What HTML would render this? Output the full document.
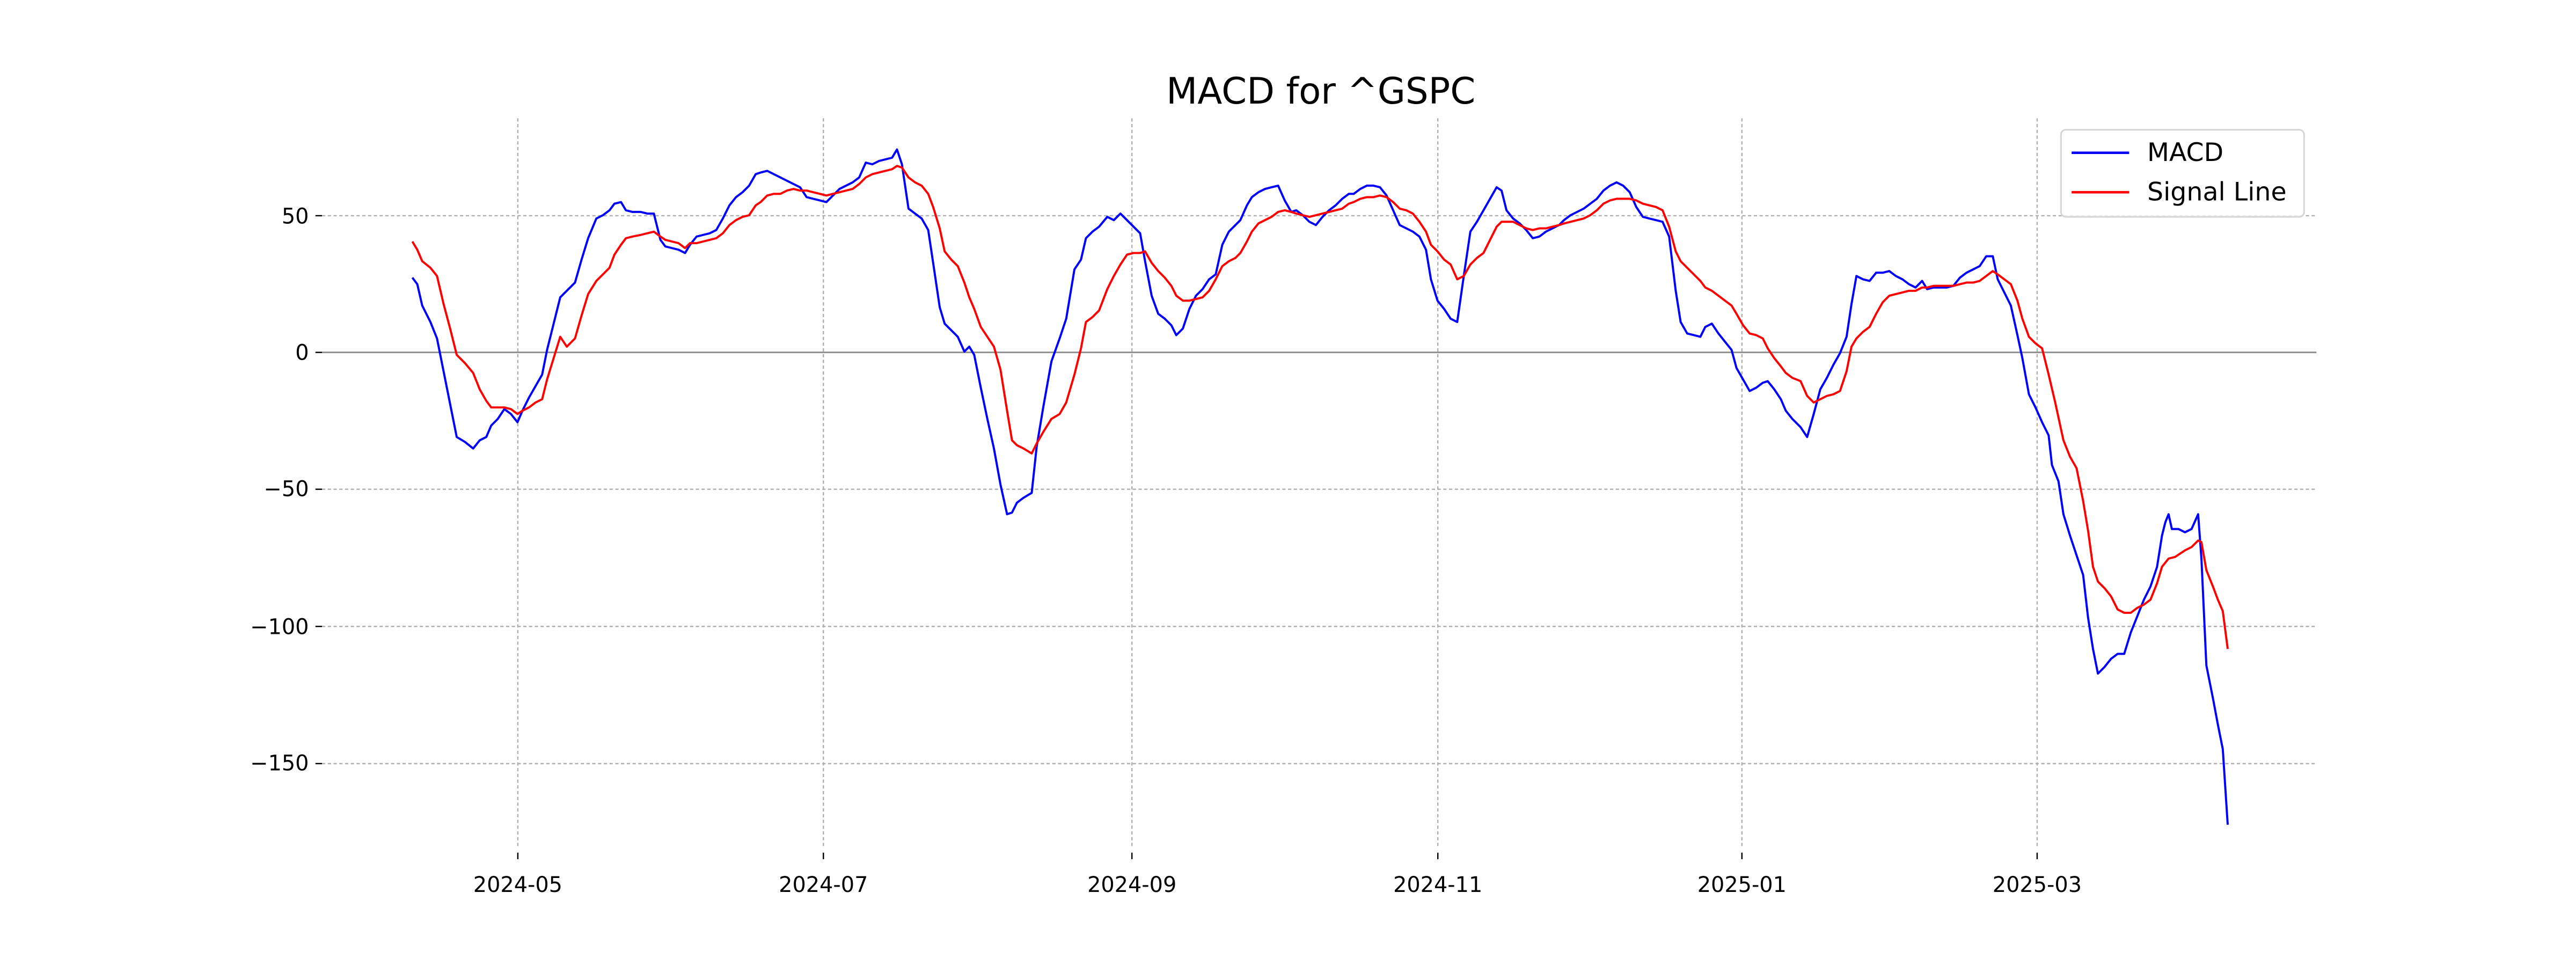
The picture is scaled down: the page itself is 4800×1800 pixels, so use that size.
<!DOCTYPE html>
<html><head><meta charset="utf-8"><style>html,body{margin:0;padding:0;background:#fff}svg{display:block}</style></head>
<body>
<svg width="4800" height="1800" viewBox="0 0 1568 588" xmlns="http://www.w3.org/2000/svg" font-family="'DejaVu Sans','Liberation Sans',sans-serif">
<rect width="1568" height="588" fill="#fff"/>
<g stroke="#b0b0b0" stroke-width="0.8" stroke-dasharray="2,1.5" fill="none">
<line x1="196" y1="131.3" x2="1410" y2="131.3"/>
<line x1="196" y1="297.8" x2="1410" y2="297.8"/>
<line x1="196" y1="381.3" x2="1410" y2="381.3"/>
<line x1="196" y1="464.8" x2="1410" y2="464.8"/>
<line x1="315.2" y1="72" x2="315.2" y2="515"/>
<line x1="501.2" y1="72" x2="501.2" y2="515"/>
<line x1="689" y1="72" x2="689" y2="515"/>
<line x1="875.2" y1="72" x2="875.2" y2="515"/>
<line x1="1060.3" y1="72" x2="1060.3" y2="515"/>
<line x1="1240" y1="72" x2="1240" y2="515"/>
</g>
<line x1="196" y1="214.5" x2="1410" y2="214.5" stroke="#909090" stroke-width="1"/>
<g stroke="#000" stroke-width="0.8">
<line x1="192" y1="131.3" x2="196" y2="131.3"/><line x1="192" y1="214.5" x2="196" y2="214.5"/><line x1="192" y1="297.8" x2="196" y2="297.8"/><line x1="192" y1="381.3" x2="196" y2="381.3"/><line x1="192" y1="464.8" x2="196" y2="464.8"/>
<line x1="315.2" y1="519" x2="315.2" y2="523"/><line x1="501.2" y1="519" x2="501.2" y2="523"/><line x1="689" y1="519" x2="689" y2="523"/><line x1="875.2" y1="519" x2="875.2" y2="523"/><line x1="1060.3" y1="519" x2="1060.3" y2="523"/><line x1="1240" y1="519" x2="1240" y2="523"/>
</g>
<g font-size="13" fill="#000" text-anchor="end">
<text x="188" y="136">50</text><text x="188" y="219">0</text><text x="188" y="302">−50</text><text x="188" y="386">−100</text><text x="188" y="469">−150</text>
</g>
<g font-size="13" fill="#000" text-anchor="middle">
<text x="315.2" y="543">2024-05</text><text x="501.2" y="543">2024-07</text><text x="689" y="543">2024-09</text><text x="875.2" y="543">2024-11</text><text x="1060.3" y="543">2025-01</text><text x="1240" y="543">2025-03</text>
</g>
<text x="804" y="63" font-size="22" text-anchor="middle" fill="#000">MACD for ^GSPC</text>
<polyline fill="none" stroke="#0000ff" stroke-width="1.3" stroke-linejoin="round" points="251,169 254,173 257,186 262,196 266,206 270,226 274,246 278,266 283,269 288,273 292,268 296,266 299,259 303,255 307,249 311,252 315,257 318,250 322,242 326,235 330,228 333,213 337,197 341,181 345,177 350,172 354,158 358,145 363,133 367,131 371,128 374,124 378,123 381,128 385,129 390,129 394,130 398,130 402,146 405,150 409,151 413,152 417,154 420,149 424,144 428,143 432,142 436,140 440,133 444,125 448,120 452,117 456,113 460,106 463,105 467,104 471,106 475,108 479,110 483,112 487,114 491,120 495,121 499,122 503,123 507,119 511,115 515,113 519,111 523,108 527,99 531,100 535,98 539,97 543,96 546,91 549,100 553,127 557,130 561,133 565,140 568,160 572,187 575,197 579,201 583,205 587,214 590,211 593,216 597,236 601,255 605,273 609,295 613,313 616,312 619,306 623,303 628,300 631,272 635,248 640,220 645,206 649,194 654,164 658,158 661,145 665,141 669,138 674,132 678,134 682,130 686,134 690,138 694,142 697,159 701,180 705,191 709,194 713,198 716,204 720,200 724,188 728,180 732,176 736,170 740,167 744,149 748,141 752,137 755,134 759,125 762,120 766,117 770,115 774,114 778,113 782,122 786,129 789,128 793,131 797,135 801,137 805,132 809,128 813,125 817,121 821,118 824,118 828,115 832,113 836,113 840,114 844,119 848,128 852,137 856,139 860,141 864,144 868,152 871,170 875,183 879,188 883,194 887,196 891,168 895,141 899,135 903,128 907,121 911,114 914,116 917,128 921,133 925,136 929,140 933,145 937,144 941,141 945,139 949,137 952,134 956,131 960,129 964,127 968,124 972,121 976,116 980,113 984,111 988,113 992,117 996,126 1000,132 1004,133 1008,134 1012,135 1016,144 1020,177 1023,196 1027,203 1031,204 1035,205 1038,199 1042,197 1046,203 1050,208 1054,213 1057,224 1061,231 1065,238 1069,236 1073,233 1076,232 1080,237 1084,243 1087,250 1091,255 1096,260 1100,266 1104,252 1108,237 1112,230 1116,222 1120,215 1124,205 1127,185 1130,168 1134,170 1138,171 1142,166 1146,166 1150,165 1154,168 1158,170 1162,173 1166,175 1170,171 1173,176 1177,175 1181,175 1185,175 1189,174 1193,169 1197,166 1201,164 1205,162 1209,156 1213,156 1216,170 1220,178 1224,186 1228,204 1231,218 1235,240 1239,248 1243,257 1247,265 1249,283 1253,293 1256,313 1260,326 1264,338 1268,350 1271,376 1274,395 1277,410 1281,406 1285,401 1289,398 1293,398 1297,385 1301,375 1305,365 1309,357 1313,345 1316,326 1318,318 1320,313 1322,322 1326,322 1330,324 1334,322 1338,313 1340,340 1343,405 1347,425 1350,441 1353,456 1356,502"/>
<polyline fill="none" stroke="#ff0000" stroke-width="1.3" stroke-linejoin="round" points="251,147 254,152 257,159 262,163 266,168 270,185 274,200 278,216 283,221 288,227 292,237 296,244 299,248 303,248 307,248 311,249 315,252 318,250 322,248 326,245 330,243 333,231 337,218 341,205 345,211 350,206 354,192 358,179 363,171 367,167 371,163 374,155 378,149 381,145 385,144 390,143 394,142 398,141 402,144 405,146 409,147 413,148 417,151 420,148 424,148 428,147 432,146 436,145 440,142 444,137 448,134 452,132 456,131 460,125 463,123 467,119 471,118 475,118 479,116 483,115 487,116 491,116 495,117 499,118 503,119 507,118 511,117 515,116 519,115 523,112 527,108 531,106 535,105 539,104 543,103 546,101 549,102 553,108 557,111 561,113 565,118 568,126 572,139 575,153 579,158 583,162 587,172 590,181 593,188 597,199 601,205 605,211 609,225 613,250 616,268 619,271 623,273 628,276 631,270 635,263 640,255 645,252 649,245 654,228 658,212 661,196 665,193 669,189 674,176 678,168 682,161 686,155 690,154 694,154 697,153 701,160 705,165 709,169 713,174 716,180 720,183 724,183 728,182 732,181 736,177 740,170 744,162 748,159 752,157 755,154 759,147 762,141 766,136 770,134 774,132 778,129 782,128 786,129 789,130 793,131 797,132 801,131 805,130 809,129 813,128 817,127 821,124 824,123 828,121 832,120 836,120 840,119 844,120 848,123 852,127 856,128 860,130 864,135 868,141 871,149 875,153 879,158 883,161 887,170 891,168 895,161 899,157 903,154 907,146 911,138 914,135 917,135 921,135 925,137 929,139 933,140 937,139 941,139 945,138 949,137 952,136 956,135 960,134 964,133 968,131 972,128 976,124 980,122 984,121 988,121 992,121 996,122 1000,124 1004,125 1008,126 1012,128 1016,138 1020,153 1023,159 1027,163 1031,167 1035,171 1038,175 1042,177 1046,180 1050,183 1054,186 1057,191 1061,198 1065,203 1069,204 1073,206 1076,212 1080,218 1084,223 1087,227 1091,230 1096,232 1100,241 1104,245 1108,243 1112,241 1116,240 1120,238 1124,226 1127,211 1130,206 1134,202 1138,199 1142,191 1146,184 1150,180 1154,179 1158,178 1162,177 1166,177 1170,175 1173,175 1177,174 1181,174 1185,174 1189,174 1193,173 1197,172 1201,172 1205,171 1209,168 1213,165 1216,167 1220,170 1224,173 1228,183 1231,194 1235,205 1239,209 1243,212 1247,228 1251,245 1256,268 1260,278 1264,285 1268,305 1271,323 1274,345 1277,354 1281,358 1285,363 1289,371 1293,373 1297,373 1301,370 1305,368 1309,365 1313,355 1316,345 1320,340 1324,339 1330,335 1334,333 1338,329 1340,330 1343,347 1347,357 1350,365 1353,372 1356,395"/>
<rect x="1254.5" y="79" width="148" height="53" rx="3" fill="#fff" fill-opacity="0.8" stroke="#d6d6d6" stroke-width="1"/>
<line x1="1261" y1="93" x2="1296" y2="93" stroke="#0000ff" stroke-width="1.5"/>
<line x1="1261" y1="117" x2="1296" y2="117" stroke="#ff0000" stroke-width="1.5"/>
<text x="1307" y="98" font-size="15.5" fill="#000">MACD</text>
<text x="1307" y="122" font-size="15.5" fill="#000">Signal Line</text>
</svg>
</body></html>
